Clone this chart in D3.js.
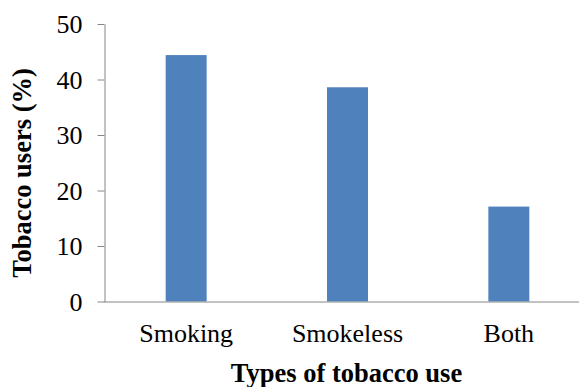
<!DOCTYPE html>
<html>
<head>
<meta charset="utf-8">
<script src="https://cdn.jsdelivr.net/npm/d3@7"></script>
<style>
  html, body { margin: 0; padding: 0; background: #ffffff; }
  svg { display: block; }
  svg text { font-family: "Liberation Serif", "Times New Roman", serif !important; fill: #000; }
</style>
</head>
<body>
<svg id="chart" width="579" height="387"></svg>
<script>
// Share of tobacco users by type of use
const categories = ["Smoking", "Smokeless", "Both"];
const values = [44.4, 38.6, 17.1];
const yTicks = [0, 10, 20, 30, 40, 50];

const xTitle = "Types of tobacco use";
const yTitle = "Tobacco users (%)";

const serif = "'Liberation Serif', 'Times New Roman', serif";
const svg = d3.select("#chart");

const axisX = 104.5;   // left edge of plot area
const x = d3.scaleBand()
  .domain(categories)
  .range([105.5, 589.5])
  .paddingInner(0.746)
  .paddingOuter(0.373);

const y = d3.scaleLinear()
  .domain([0, 50])
  .range([301.5, 24]);

const axisColor = "#868686";

// bars
svg.append("g")
  .selectAll("rect")
  .data(values)
  .join("rect")
  .attr("x", (d, i) => x(categories[i]))
  .attr("y", d => y(d))
  .attr("width", x.bandwidth())
  .attr("height", d => y(0) - y(d))
  .attr("fill", "#4F81BD");

// value axis
const yAxis = svg.append("g")
  .attr("transform", `translate(${axisX},0)`)
  .call(d3.axisLeft(y).tickValues(yTicks).tickSizeInner(7).tickSizeOuter(0).tickPadding(15).tickFormat(d3.format("d")));
yAxis.attr("font-family", null).attr("font-size", null);
yAxis.select(".domain").attr("stroke", axisColor);
yAxis.selectAll(".tick line").attr("stroke", axisColor);
yAxis.selectAll(".tick text")
  .style("font-family", serif)
  .style("font-size", "26px")
  .attr("fill", "#000")
  .attr("dy", "0.33em");

// category axis
const xAxis = svg.append("g")
  .attr("transform", `translate(0,${y(0)})`)
  .call(d3.axisBottom(x).tickSize(0).tickSizeOuter(0));
xAxis.attr("font-family", null).attr("font-size", null);
xAxis.select(".domain")
  .attr("stroke", axisColor)
  .attr("d", `M${axisX - 0.5},0.5H${x.range()[1]}`);
xAxis.selectAll(".tick text")
  .style("font-family", serif)
  .style("font-size", "26px")
  .attr("fill", "#000")
  .attr("y", 40)
  .attr("dy", 0);

// axis titles
svg.append("text")
  .attr("x", (x.range()[0] + x.range()[1]) / 2 - 1)
  .attr("y", 381.5)
  .attr("text-anchor", "middle")
  .style("font-family", serif)
  .style("font-size", "26.5px")
  .style("font-weight", "bold")
  .text(xTitle);

svg.append("text")
  .attr("transform", "translate(30.5,173) rotate(-90)")
  .attr("text-anchor", "middle")
  .style("font-family", serif)
  .style("font-size", "26.5px")
  .style("font-weight", "bold")
  .text(yTitle);
</script>
</body>
</html>
